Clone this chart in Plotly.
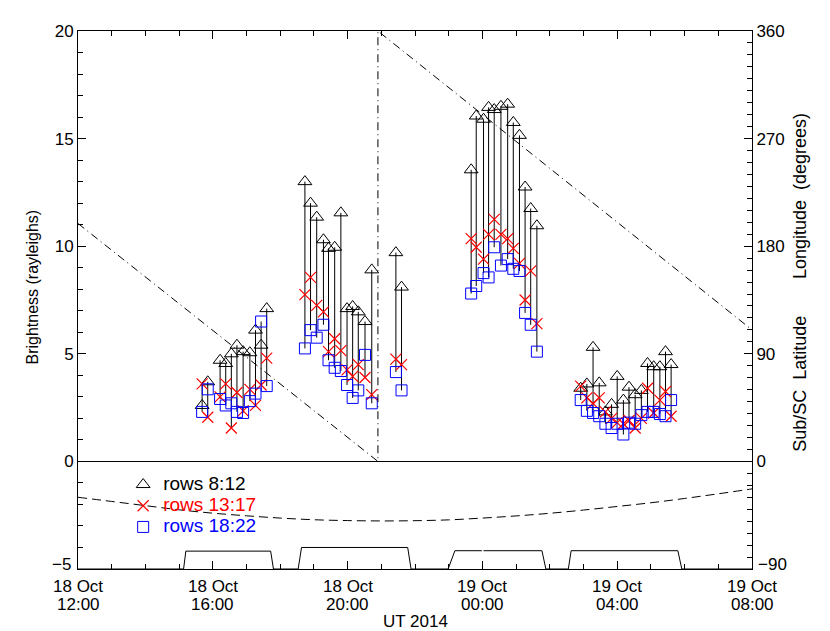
import pandas as pd
import plotly.graph_objects as go

# observation times (UT, 18-19 Oct 2014)
obs_time = [
    "2014-10-18 15:41", "2014-10-18 15:51", "2014-10-18 16:13", "2014-10-18 16:23",
    "2014-10-18 16:33", "2014-10-18 16:43", "2014-10-18 16:54", "2014-10-18 17:06",
    "2014-10-18 17:16", "2014-10-18 17:26", "2014-10-18 17:36",
    "2014-10-18 18:44", "2014-10-18 18:54", "2014-10-18 19:05", "2014-10-18 19:17",
    "2014-10-18 19:26", "2014-10-18 19:37", "2014-10-18 19:48", "2014-10-18 19:59",
    "2014-10-18 20:09", "2014-10-18 20:19", "2014-10-18 20:31", "2014-10-18 20:43",
    "2014-10-18 21:26", "2014-10-18 21:36",
    "2014-10-18 23:40", "2014-10-18 23:49", "2014-10-19 00:02", "2014-10-19 00:11",
    "2014-10-19 00:21", "2014-10-19 00:33", "2014-10-19 00:45", "2014-10-19 00:55",
    "2014-10-19 01:06", "2014-10-19 01:16", "2014-10-19 01:26", "2014-10-19 01:37",
    "2014-10-19 02:55", "2014-10-19 03:06", "2014-10-19 03:17", "2014-10-19 03:28",
    "2014-10-19 03:39", "2014-10-19 03:50", "2014-10-19 04:00", "2014-10-19 04:11",
    "2014-10-19 04:21", "2014-10-19 04:32", "2014-10-19 04:43", "2014-10-19 04:54",
    "2014-10-19 05:05", "2014-10-19 05:16", "2014-10-19 05:26", "2014-10-19 05:36",
]

rows_8_12 = [
    2.6, 3.7, 4.7, 4.55, 5.0, 5.4, 5.1, 5.05, 6.1, 5.4, 7.1,
    13.0, 12.0, 11.35, 10.3, 9.9, 9.95, 11.55, 7.1, 7.2, 6.95, 6.5, 8.9,
    9.7, 8.1,
    13.55, 16.05, 15.9, 16.45, 16.35, 16.5, 16.6, 15.75, 15.15, 12.75, 11.75, 10.95,
    3.4, 3.6, 5.3, 3.65, 2.3, 2.65, 3.95, 2.85, 3.45, 3.1, 3.3, 4.55, 4.4, 4.4, 5.1, 4.5,
]

rows_13_17 = [
    3.6, 2.05, 3.0, 3.6, 1.55, 3.2, 2.35, 3.35, 2.6, 3.55, 4.8,
    7.75, 8.55, 7.25, 6.95, 5.1, 5.7, 5.15, 4.25, 3.95, 4.5, 3.9, 3.1,
    4.75, 4.5,
    10.35, 9.95, 9.4, 10.55, 11.25, 10.55, 10.35, 9.9, 9.2, 7.5, 8.85, 6.4,
    3.5, 2.95, 2.7, 2.95, 2.3, 2.0, 1.8, 1.75, 1.9, 1.55, 2.0, 3.4, 2.25, 2.85, 3.25, 2.1,
]

rows_18_22 = [
    2.3, 3.35, 2.9, 2.6, 2.7, 2.3, 2.25, 2.8, 3.15, 6.5, 3.5,
    5.25, 6.1, 5.75, 6.35, 4.7, 4.35, 4.2, 3.55, 2.95, 3.3, 4.95, 2.7,
    4.15, 3.3,
    7.8, 8.15, 8.75, 8.55, 9.95, 9.1, 9.4, 8.95, 8.85, 6.9, 6.35, 5.1,
    2.85, 2.35, 2.25, 2.1, 1.75, 1.55, 1.75, 1.25, 1.8, 1.75, 2.15, 2.3, 2.3, 2.2, 2.1, 2.85,
]

# central longitude (degrees), wraps 0 -> 360
lon_time = ["2014-10-18 12:00", "2014-10-18 20:54", "2014-10-18 20:54", "2014-10-19 08:00"]
lon_deg = [199, 0, 360, 110]

# sub-spacecraft latitude (degrees)
lat_time = pd.date_range("2014-10-18 12:00", "2014-10-19 08:00", freq="1h")
lat_deg = [-30, -33.5, -37, -40.5, -43.3, -45.5, -47.4, -48.8, -49.5, -49.8, -49.6,
           -48.9, -47.4, -45.6, -43.4, -40.7, -37.7, -34.6, -31.0, -27.1, -23.0]

# observing windows (bottom trace, brightness units)
win_time = ["2014-10-18 12:00", "2014-10-18 15:08", "2014-10-18 15:12", "2014-10-18 17:43",
            "2014-10-18 17:48", "2014-10-18 18:32", "2014-10-18 18:38", "2014-10-18 21:47",
            "2014-10-18 21:53", "2014-10-18 22:59", "2014-10-18 23:11", "2014-10-18 23:59",
            None, "2014-10-19 00:02", "2014-10-19 01:46", "2014-10-19 01:53",
            "2014-10-19 02:33", "2014-10-19 02:38", "2014-10-19 05:48", "2014-10-19 05:55",
            "2014-10-19 08:00"]
win_val = [-5, -5, -4.17, -4.17, -5, -5, -4.0, -4.0, -5, -5, -4.15, -4.15,
           None, -4.15, -4.15, -5, -5, -4.15, -4.15, -5, -5]

tick_time = ["2014-10-18 12:00", "2014-10-18 16:00", "2014-10-18 20:00",
             "2014-10-19 00:00", "2014-10-19 04:00", "2014-10-19 08:00"]
tick_day = ["18 Oct", "18 Oct", "18 Oct", "19 Oct", "19 Oct", "19 Oct"]
tick_hour = ["12:00", "16:00", "20:00", "00:00", "04:00", "08:00"]

FONT = "Liberation Sans, Arial, Helvetica, sans-serif"

# vertical bars spanning all three row groups
bar_x, bar_y = [], []
for t, a, b, c in zip(obs_time, rows_8_12, rows_13_17, rows_18_22):
    bar_x += [t, t, None]
    bar_y += [max(a, b, c), min(a, b, c), None]

fig = go.Figure()
fig.add_trace(go.Scatter(x=bar_x, y=bar_y, mode="lines",
                         line=dict(color="black", width=1),
                         showlegend=False, hoverinfo="skip"))
fig.add_trace(go.Scatter(x=obs_time, y=rows_8_12, mode="markers",
                         name="<span style='font-size:19px'>rows 8:12</span>",
                         marker=dict(symbol="triangle-up-open", size=12,
                                     color="black", line=dict(width=1))))
fig.add_trace(go.Scatter(x=obs_time, y=rows_13_17, mode="markers",
                         name="<span style='font-size:19px;color:red'>rows 13:17</span>",
                         marker=dict(symbol="x-thin-open", size=11,
                                     color="red", line=dict(width=1.2, color="red"))))
fig.add_trace(go.Scatter(x=obs_time, y=rows_18_22, mode="markers",
                         name="<span style='font-size:19px;color:blue'>rows 18:22</span>",
                         marker=dict(symbol="square-open", size=11,
                                     color="blue", line=dict(width=1))))

fig.add_trace(go.Scatter(x=win_time, y=win_val, mode="lines",
                         line=dict(color="black", width=1),
                         showlegend=False, hoverinfo="skip"))
fig.add_trace(go.Scatter(x=lon_time, y=lon_deg, mode="lines", yaxis="y2",
                         line=dict(color="black", width=1, dash="8px,4px,1px,4px"),
                         showlegend=False, hoverinfo="skip"))
fig.add_trace(go.Scatter(x=lat_time, y=lat_deg, mode="lines", yaxis="y2",
                         line=dict(color="black", width=1, dash="9px,5px", shape="spline"),
                         showlegend=False, hoverinfo="skip"))

# page body has an 8px margin, so the figure is 8px smaller on each axis
annotations = []
for t, d, h in zip(tick_time, tick_day, tick_hour):
    annotations.append(dict(text=d, x=t, xref="x", y=-0.0316, yref="paper",
                            showarrow=False, xanchor="center", yanchor="middle"))
    annotations.append(dict(text=h, x=t, xref="x", y=-0.0660, yref="paper",
                            showarrow=False, xanchor="center", yanchor="middle"))
annotations += [
    dict(text="\u22125", x=0, xref="paper", y=-5, yref="y", xanchor="right",
         yanchor="middle", xshift=-5, yshift=5, showarrow=False),
    dict(text="\u221290", x=1, xref="paper", y=-90, yref="y2", xanchor="left",
         yanchor="middle", xshift=4, yshift=5, showarrow=False),
    dict(text="UT 2014", xref="paper", yref="paper", x=0.5, y=-0.0985,
         showarrow=False, xanchor="center", yanchor="middle"),
    dict(text="Brightness (rayleighs)", xref="paper", yref="paper",
         x=-0.0668, y=0.525, textangle=-90, showarrow=False,
         xanchor="center", yanchor="middle", font=dict(size=16)),
    dict(text="Longitude  (degrees)", xref="paper", yref="paper",
         x=1.071, y=0.693, textangle=-90, showarrow=False,
         xanchor="center", yanchor="middle", font=dict(size=18)),
    dict(text="Sub/SC  Latitude", xref="paper", yref="paper",
         x=1.071, y=0.344, textangle=-90, showarrow=False,
         xanchor="center", yanchor="middle", font=dict(size=18)),
]

fig.update_layout(
    width=822, height=623,
    margin=dict(l=70, r=78, t=23, b=62),
    plot_bgcolor="white", paper_bgcolor="white",
    font=dict(family=FONT, size=17, color="black"),
    showlegend=True,
    legend=dict(x=0.067, y=0.186, xanchor="left", yanchor="top",
                bgcolor="rgba(0,0,0,0)", font=dict(size=14),
                tracegroupgap=0, itemwidth=30),
    xaxis=dict(
        range=["2014-10-18 12:00", "2014-10-19 08:00"],
        tickvals=tick_time, showticklabels=False,
        ticks="inside", ticklen=8, tickcolor="black",
        showline=True, linecolor="black", linewidth=1, mirror="ticks",
        showgrid=False, zeroline=False, automargin=False,
        minor=dict(dtick=3600000, ticks="inside", ticklen=5, tickcolor="black"),
    ),
    yaxis=dict(
        range=[-5, 20], tickvals=[-5, 0, 5, 10, 15, 20],
        ticktext=["", "0", "5", "10", "15", "20"],
        ticks="inside", ticklen=8, tickcolor="black",
        showline=True, linecolor="black", linewidth=1,
        showgrid=False, zeroline=True, zerolinecolor="black", zerolinewidth=1,
        automargin=False,
        minor=dict(dtick=1, ticks="inside", ticklen=5, tickcolor="black"),
    ),
    yaxis2=dict(
        overlaying="y", side="right",
        range=[-90, 360], tickvals=[-90, 0, 90, 180, 270, 360],
        ticktext=["", "0", "90", "180", "270", "360"],
        ticks="inside", ticklen=8, tickcolor="black",
        showline=True, linecolor="black", linewidth=1,
        showgrid=False, zeroline=False, automargin=False,
        minor=dict(dtick=10, ticks="inside", ticklen=5, tickcolor="black"),
    ),
    annotations=annotations,
)

fig.write_html("out.html")
